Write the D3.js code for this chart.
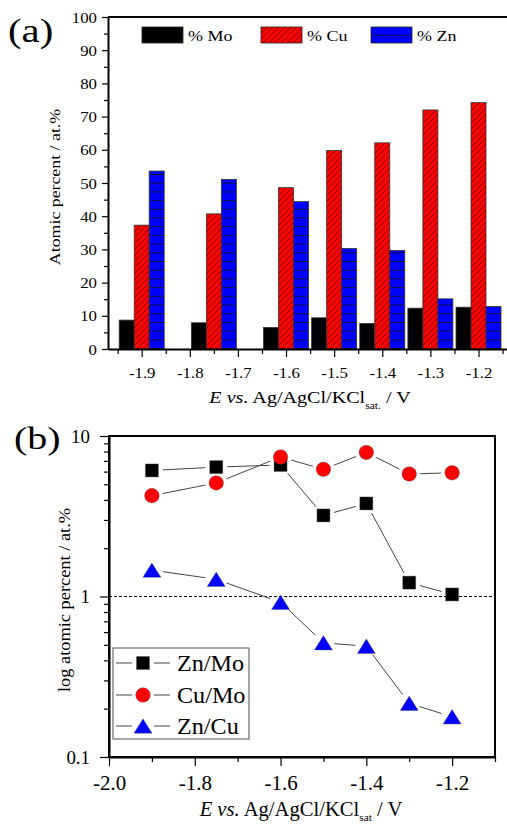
<!DOCTYPE html>
<html>
<head>
<meta charset="utf-8">
<script src="https://cdn.jsdelivr.net/npm/d3@7"></script>
<style>
  body { margin: 0; background: #fff; }
  svg { display: block; }
  text { font-family: "Liberation Serif", "Times New Roman", serif; fill: #000; }
</style>
</head>
<body>
<script>
// ---- data ----
const potentials = [-1.9, -1.75, -1.6, -1.5, -1.4, -1.3, -1.2];
const elements = ["% Mo", "% Cu", "% Zn"];
const moPct = [8.7, 7.9, 6.5, 9.4, 7.7, 12.3, 12.6];
const cuPct = [37.3, 40.7, 48.6, 59.8, 62.1, 72.0, 74.2];
const znPct = [53.6, 51.1, 44.4, 30.3, 29.7, 15.1, 12.8];
const aTickValues = [-1.9, -1.8, -1.7, -1.6, -1.5, -1.4, -1.3, -1.2];

const ratioNames = ["Zn/Mo", "Cu/Mo", "Zn/Cu"];
const znMo = [6.1, 6.4, 6.6, 3.2, 3.8, 1.22, 1.03];
const cuMo = [4.25, 5.1, 7.4, 6.2, 7.9, 5.8, 5.9];
const znCu = [1.46, 1.28, 0.92, 0.515, 0.49, 0.216, 0.178];
const bTickValues = [-2.0, -1.8, -1.6, -1.4, -1.2];

const W = 507, H = 825;
const svg = d3.select("body").append("svg").attr("width", W).attr("height", H);
const defs = svg.append("defs");

// hatch patterns
const pCu = defs.append("pattern").attr("id", "hatchCu")
  .attr("patternUnits", "userSpaceOnUse").attr("width", 6).attr("height", 6);
pCu.append("rect").attr("width", 6).attr("height", 6).attr("fill", "#ff0000");
pCu.append("path").attr("d", "M0,6L6,0M-3,3L3,-3M3,9L9,3")
  .attr("stroke", "#300").attr("stroke-width", 0.6);

const pZn = defs.append("pattern").attr("id", "linesZn")
  .attr("patternUnits", "userSpaceOnUse").attr("width", 10).attr("height", 8.7);
pZn.append("rect").attr("width", 10).attr("height", 8.7).attr("fill", "#0000ff");
pZn.append("path").attr("d", "M0,0.5H10").attr("stroke", "#111").attr("stroke-width", 0.8);

// text helper, sx stretches the glyphs horizontally
function txt(g, x, y, s, size, opt = {}) {
  return g.append("text")
    .attr("transform", `translate(${x},${y}) rotate(${opt.rot || 0}) scale(${opt.sx || 1},1)`)
    .attr("text-anchor", opt.anchor || "start")
    .attr("font-size", size)
    .text(s);
}

function styleAxis(g, size, sw) {
  g.attr("font-family", null).attr("font-size", size);
  g.select(".domain").attr("stroke-width", sw);
  g.selectAll(".tick line").attr("stroke-width", 1.2);
}

// =============== panel (a) ===============
const gA = svg.append("g");
const xA = d3.scaleLinear().domain([-1.97, -1.12]).range([108, 517]);
const yA = d3.scaleLinear().domain([0, 100]).range([349, 17]);
const sub = d3.scaleBand().domain(elements).range([-22.5, 22.5]);
const fills = ["#000", "url(#hatchCu)", "url(#linesZn)"];
const seriesA = [moPct, cuPct, znPct];

seriesA.forEach((vals, i) => {
  gA.append("g").selectAll("rect")
    .data(potentials.map((p, j) => ({ p, v: vals[j] })))
    .join("rect")
    .attr("x", d => xA(d.p) + sub(elements[i]))
    .attr("width", sub.bandwidth())
    .attr("y", d => yA(d.v))
    .attr("height", d => yA(0) - yA(d.v))
    .attr("fill", fills[i])
    .attr("stroke", "#333").attr("stroke-width", 0.8);
});

// y axis (a)
const yAMinor = gA.append("g").attr("transform", `translate(${xA.range()[0]},0)`)
  .call(d3.axisLeft(yA).tickValues(d3.range(5, 100, 10)).tickSize(4).tickFormat(""));
yAMinor.select(".domain").remove();
yAMinor.selectAll("line").attr("stroke-width", 1.2);
const yAAxis = gA.append("g").attr("transform", `translate(${xA.range()[0]},0)`)
  .call(d3.axisLeft(yA).tickValues(d3.range(0, 101, 10)).tickSize(6).tickSizeOuter(0));
styleAxis(yAAxis, 14, 2);
yAAxis.selectAll(".tick text").attr("x", null).attr("dy", null)
  .attr("transform", "translate(-11,5) scale(1.2,1)");

// x axis (a)
const xAMinor = gA.append("g").attr("transform", `translate(0,${yA(0)})`)
  .call(d3.axisBottom(xA).tickValues(d3.range(-1.95, -1.1, 0.1)).tickSize(5).tickFormat(""));
xAMinor.select(".domain").remove();
xAMinor.selectAll("line").attr("stroke-width", 1.2);
const xAAxis = gA.append("g").attr("transform", `translate(0,${yA(0)})`)
  .call(d3.axisBottom(xA).tickValues(aTickValues).tickSize(8).tickSizeOuter(0));
styleAxis(xAAxis, 14, 2);
xAAxis.selectAll(".tick text").attr("y", null).attr("dy", null)
  .attr("transform", "translate(0,29) scale(1.2,1)")
  .text(d => d3.format(".1f")(d).replace("−", "-"));

// top border (a)
gA.append("line").attr("x1", xA.range()[0]).attr("x2", W).attr("y1", yA(100)).attr("y2", yA(100))
  .attr("stroke", "#000").attr("stroke-width", 2);

// legend (a)
const legA = gA.append("g");
const legAX = [142, 261, 371];
elements.forEach((e, i) => {
  legA.append("rect").attr("x", legAX[i]).attr("y", 27).attr("width", 41).attr("height", 16)
    .attr("fill", fills[i]).attr("stroke", "#222").attr("stroke-width", 0.8);
  txt(legA, legAX[i] + 46, 41, e, 15, { sx: 1.2 });
});

// titles (a)
txt(gA, 8, 42, "(a)", 34, { sx: 1.2 });
txt(gA, 60, 187, "Atomic percent / at.%", 15.5, { rot: -90, sx: 1.15, anchor: "middle" });
const tA = gA.append("text").attr("transform", "translate(310,403) scale(1.15,1)")
  .attr("text-anchor", "middle").attr("font-size", 17.5);
tA.append("tspan").attr("font-style", "italic").text("E vs.");
tA.append("tspan").text(" Ag/AgCl/KCl");
tA.append("tspan").attr("font-size", 10).attr("dy", 6).text("sat.");
tA.append("tspan").attr("dy", -6).text(" / V");

// =============== panel (b) ===============
const gB = svg.append("g");
const xB = d3.scaleLinear().domain([-2.0, -1.1]).range([109, 495]);
const yB = d3.scaleLog().domain([0.1, 10]).range([757, 436]);

// frame
gB.append("rect").attr("x", xB.range()[0]).attr("y", yB.range()[1])
  .attr("width", xB.range()[1] - xB.range()[0]).attr("height", yB.range()[0] - yB.range()[1])
  .attr("fill", "none").attr("stroke", "#000").attr("stroke-width", 2);

// reference line at 1
gB.append("line").attr("x1", xB.range()[0]).attr("x2", xB.range()[1])
  .attr("y1", yB(1)).attr("y2", yB(1))
  .attr("stroke", "#000").attr("stroke-width", 1).attr("stroke-dasharray", "3,2");

// y axis (b)
const minorLog = [2, 3, 4, 5, 6, 7, 8, 9].flatMap(m => [m * 0.1, m]);
const yBMinor = gB.append("g").attr("transform", `translate(${xB.range()[0]},0)`)
  .call(d3.axisLeft(yB).tickValues(minorLog).tickSize(5).tickFormat(""));
yBMinor.select(".domain").remove();
yBMinor.selectAll("line").attr("stroke-width", 1.2);
const yBAxis = gB.append("g").attr("transform", `translate(${xB.range()[0]},0)`)
  .call(d3.axisLeft(yB).tickValues([0.1, 1, 10]).tickSize(9).tickSizeOuter(0).tickFormat(d3.format("")));
styleAxis(yBAxis, 18, 2);
yBAxis.selectAll(".tick text").attr("x", null).attr("dy", null)
  .attr("transform", "translate(-19,6) scale(1.05,1)");

// x axis (b)
const xBMinor = gB.append("g").attr("transform", `translate(0,${yB.range()[0]})`)
  .call(d3.axisBottom(xB).tickValues(d3.range(-1.9, -1.05, 0.2)).tickSize(5).tickFormat(""));
xBMinor.select(".domain").remove();
xBMinor.selectAll("line").attr("stroke-width", 1.2);
const xBAxis = gB.append("g").attr("transform", `translate(0,${yB.range()[0]})`)
  .call(d3.axisBottom(xB).tickValues(bTickValues).tickSize(9).tickSizeOuter(0));
styleAxis(xBAxis, 20, 2);
xBAxis.selectAll(".tick text").attr("y", null).attr("dy", null)
  .attr("transform", "translate(0,33) scale(1.05,1)")
  .text(d => d3.format(".1f")(d).replace("−", "-"));

// markers and connecting lines
const triUp = {
  draw(ctx, size) {
    const s = Math.sqrt(size), h = s * 0.8;
    ctx.moveTo(0, -h / 2); ctx.lineTo(s / 2, h / 2); ctx.lineTo(-s / 2, h / 2); ctx.closePath();
  }
};
const seriesB = [
  { name: ratioNames[0], vals: znMo, sym: d3.symbolSquare, size: 13 * 13, fill: "#000" },
  { name: ratioNames[1], vals: cuMo, sym: d3.symbolCircle, size: Math.PI * 7.3 * 7.3, fill: "#ff0000" },
  { name: ratioNames[2], vals: znCu, sym: triUp, size: 18 * 18, fill: "#0000ff" }
];
const gap = 11;
seriesB.forEach(s => {
  const pts = s.vals.map((v, j) => [xB(potentials[j]), yB(v)]);
  d3.pairs(pts).forEach(([a, b]) => {
    const dx = b[0] - a[0], dy = b[1] - a[1], L = Math.hypot(dx, dy);
    if (L <= 2 * gap) return;
    const ux = dx / L, uy = dy / L;
    gB.append("path")
      .attr("d", `M${a[0] + ux * gap},${a[1] + uy * gap}L${b[0] - ux * gap},${b[1] - uy * gap}`)
      .attr("stroke", "#444").attr("stroke-width", 1).attr("fill", "none");
  });
});
seriesB.forEach(s => {
  gB.append("g").selectAll("path")
    .data(s.vals.map((v, j) => [xB(potentials[j]), yB(v)]))
    .join("path")
    .attr("transform", d => `translate(${d[0]},${d[1]})`)
    .attr("d", d3.symbol(s.sym, s.size))
    .attr("fill", s.fill).attr("stroke", "#555").attr("stroke-width", 0.4);
});

// legend (b)
const legB = gB.append("g");
legB.append("rect").attr("x", 113).attr("y", 648).attr("width", 136).attr("height", 91)
  .attr("fill", "#fff").attr("stroke", "#777").attr("stroke-width", 1.3);
const legBY = [663, 695, 726];
seriesB.forEach((s, i) => {
  const y = legBY[i];
  legB.append("path").attr("d", `M116,${y}H132M154,${y}H170`)
    .attr("stroke", "#444").attr("stroke-width", 1);
  legB.append("path").attr("transform", `translate(143,${y})`)
    .attr("d", d3.symbol(s.sym, s.size)).attr("fill", s.fill).attr("stroke", "#555").attr("stroke-width", 0.4);
  txt(legB, 177, y + 8, s.name, 23, { sx: 1.05 });
});

// titles (b)
txt(gB, 14, 449, "(b)", 32, { sx: 1.25 });
txt(gB, 70, 600, "log atomic percent / at.%", 17.5, { rot: -90, sx: 1.05, anchor: "middle" });
const tB = gB.append("text").attr("transform", "translate(301,816) scale(1.03,1)")
  .attr("text-anchor", "middle").attr("font-size", 20);
tB.append("tspan").attr("font-style", "italic").text("E vs.");
tB.append("tspan").text(" Ag/AgCl/KCl");
tB.append("tspan").attr("font-size", 11).attr("dy", 5).text("sat");
tB.append("tspan").attr("dy", -5).text(" / V");
</script>
</body>
</html>
